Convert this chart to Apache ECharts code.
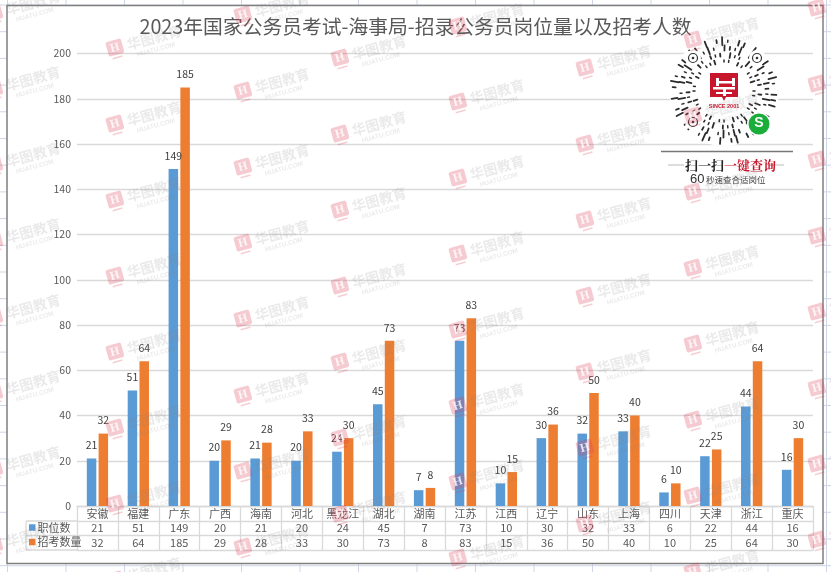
<!DOCTYPE html>
<html><head><meta charset="utf-8">
<style>html,body{margin:0;padding:0;background:#fff}#c{width:831px;height:572px}</style>
<script src="https://cdn.jsdelivr.net/npm/echarts@6/dist/echarts.min.js"></script>
</head><body><div id="c"></div>
<script>
const titleText = '2023年国家公务员考试-海事局-招录公务员岗位量以及招考人数';
const categories = ['安徽','福建','广东','广西','海南','河北','黑龙江','湖北','湖南','江苏','江西','辽宁','山东','上海','四川','天津','浙江','重庆'];
const positions = [21,51,149,20,21,20,24,45,7,73,10,30,32,33,6,22,44,16];
const recruits = [32,64,185,29,28,33,30,73,8,83,15,36,50,40,10,25,64,30];
const seriesNames = ['职位数','招考数量'];
const FONT = '"Noto Sans CJK SC","Noto Sans",sans-serif';
const GRAY = '#595959', LINE = '#d9d9d9';

const chart = echarts.init(document.getElementById('c'), null, {renderer:'canvas'});
const g = [];

/* spreadsheet behind the chart */
for (let x = 7.5; x < 831; x += 58.5) g.push({type:'line',z:-20,silent:true,shape:{x1:x,y1:0,x2:x,y2:572},style:{stroke:'#cdd5e6',lineWidth:1}});
for (let y = 5; y < 572; y += 26.7) g.push({type:'line',z:-20,silent:true,shape:{x1:0,y1:y,x2:831,y2:y},style:{stroke:'#cdd5e6',lineWidth:1}});
g.push({type:'rect',z:-10,silent:true,shape:{x:7,y:5.5,width:816,height:558},style:{fill:'#fff',stroke:'#7f7f7f',lineWidth:1.5}});

/* table left column */
g.push({type:'line',z:1,silent:true,shape:{x1:26,y1:521,x2:26,y2:550},style:{stroke:LINE,lineWidth:1.3}});
g.push({type:'line',z:1,silent:true,shape:{x1:26,y1:521,x2:77,y2:521},style:{stroke:LINE,lineWidth:1.3}});
g.push({type:'line',z:1,silent:true,shape:{x1:26,y1:535.5,x2:77,y2:535.5},style:{stroke:LINE,lineWidth:1.3}});
g.push({type:'line',z:1,silent:true,shape:{x1:26,y1:550,x2:77,y2:550},style:{stroke:LINE,lineWidth:1.3}});

/* mini-program code */
const cx = 724, cy = 91;
g.push({type:'circle',z:5,silent:true,shape:{cx,cy,r:55},style:{fill:'#fff'}});
const rings = [[30,40,[2,2,0,3,2,0,2,2,4,0]],[36,46,[3,0,5,2,2,0,6,2,0,3,2]],[43,50,[7,2,0,5,3,2,8,0,3,6,2]],[50,56,[6,0,3,8,2,0,5,4,0,7,3,0]]];
rings.forEach(([r,n,pat],ri)=>{
  for(let i=0;i<n;i++){
    const a=i/n*Math.PI*2+ri*0.1, len=pat[i%pat.length];
    if(!len) continue;
    const c=Math.cos(a),s=Math.sin(a);
    g.push({type:'line',z:6,silent:true,shape:{x1:cx+c*(r-len/2),y1:cy+s*(r-len/2),x2:cx+c*(r+len/2),y2:cy+s*(r+len/2)},
      style:{stroke:'#2b2b2b',lineWidth:len<3?1.5:1.8,lineCap:'round'}});
  }
});
[[693,58],[757,58],[693,122]].forEach(([x,y])=>{
  g.push({type:'circle',z:7,silent:true,shape:{cx:x,cy:y,r:8},style:{fill:'#fff'}});
  g.push({type:'circle',z:8,silent:true,shape:{cx:x,cy:y,r:4.5},style:{fill:'#fff',stroke:'#333',lineWidth:1.2}});
  g.push({type:'circle',z:8,silent:true,shape:{cx:x,cy:y,r:1.3},style:{fill:'#333'}});
});
g.push({type:'circle',z:7,silent:true,shape:{cx,cy,r:24},style:{fill:'#fff'}});
g.push({type:'polygon',z:8,silent:true,shape:{points:[[710,73],[738,73],[738,97],[726,97],[724,101],[722,97],[710,97]]},style:{fill:'#c8162c'}});
[[716,78,3,8],[732,78,3,8],[716,81,19,2.5],[713,87,22,2.5],[723,87,3,9],[716,92,16,2]].forEach(([x,y,w,h])=>{
  g.push({type:'rect',z:9,silent:true,shape:{x,y,width:w,height:h},style:{fill:'#fff'}});
});
g.push({type:'text',z:9,silent:true,x:724,y:106,style:{text:'SINCE 2001',fill:'#c8162c',font:'bold 5.5px "Liberation Sans",sans-serif',align:'center',verticalAlign:'middle'}});
g.push({type:'circle',z:8,silent:true,shape:{cx:759,cy:124,r:12},style:{fill:'#fff'}});
g.push({type:'circle',z:8,silent:true,shape:{cx:759,cy:124,r:10.5},style:{fill:'#1aad3a'}});
g.push({type:'text',z:9,silent:true,x:759,y:123.5,style:{text:'S',fill:'#fff',font:'bold 14px "Liberation Sans",sans-serif',align:'center',verticalAlign:'middle'}});
g.push({type:'rect',z:5,silent:true,shape:{x:660,y:146,width:136,height:42},style:{fill:'#fff'}});
g.push({type:'line',z:6,silent:true,shape:{x1:661,y1:151.5,x2:793,y2:151.5},style:{stroke:'#777',lineWidth:1.5}});
g.push({type:'line',z:6,silent:true,shape:{x1:668,y1:165,x2:684,y2:165},style:{stroke:'#bbb',lineWidth:1}});
g.push({type:'line',z:6,silent:true,shape:{x1:769,y1:165,x2:784,y2:165},style:{stroke:'#bbb',lineWidth:1}});
g.push({type:'text',z:6,silent:true,x:685,y:165,style:{text:'扫一扫',fill:'#222',font:'bold 13px "Noto Serif CJK SC","Noto Sans CJK SC",serif',align:'left',verticalAlign:'middle'}});
g.push({type:'text',z:6,silent:true,x:724,y:165,style:{text:'一键查询',fill:'#c8162c',font:'bold 13px "Noto Serif CJK SC","Noto Sans CJK SC",serif',align:'left',verticalAlign:'middle'}});
g.push({type:'text',z:6,silent:true,x:690,y:179,style:{text:'60',fill:'#333',font:'13px "Liberation Sans",sans-serif',align:'left',verticalAlign:'middle'}});
g.push({type:'text',z:6,silent:true,x:706,y:180,style:{text:'秒速查合适岗位',fill:'#444',font:'8.5px '+FONT,align:'left',verticalAlign:'middle'}});

/* repeated watermark */
const wmCols = [[-6,13],[115,48],[243,15],[340,58],[458,26],[585,68],[693,40],[817,8]];
wmCols.forEach(([x,y0])=>{
  for(let y=y0;y<590;y+=76){
    g.push({type:'group',z:100,silent:true,x:x,y:y,rotation:0.27,children:[
      {type:'rect',z:100,shape:{x:-8,y:-8,width:16,height:15,r:2},style:{fill:'rgba(222,60,85,0.27)'}},
      {type:'text',z:101,x:0,y:0,style:{text:'H',fill:'rgba(255,255,255,0.8)',font:'bold 12px "Liberation Serif",serif',align:'center',verticalAlign:'middle'}},
      {type:'rect',z:100,shape:{x:-5,y:9,width:10,height:1.5},style:{fill:'rgba(222,60,85,0.25)'}}
    ]});
    g.push({type:'text',z:100,silent:true,x:x+12,y:y-3,rotation:0.27,style:{text:'华图教育',fill:'rgba(130,130,130,0.17)',font:'bold 14px '+FONT,align:'left',verticalAlign:'middle'}});
    g.push({type:'text',z:100,silent:true,x:x+22,y:y+7,rotation:0.27,style:{text:'HUATU.COM',fill:'rgba(130,130,130,0.17)',font:'bold 6.5px "Liberation Sans",sans-serif',align:'left',verticalAlign:'middle'}});
  }
});

const tableAxis = (values, offset) => ({
  type:'category', position:'bottom', offset, data:values, boundaryGap:true,
  axisLine:{show:true,onZero:false,lineStyle:{color:LINE,width:1.3}},
  axisTick:{show:false},
  axisLabel:{show:offset<44,interval:0,margin:1.5,color:GRAY,fontSize:11,fontFamily:FONT},
  splitLine:{show:false}
});

const blank = categories.map(()=>'');
const mkSeries = (name,data,color)=>({
  name,type:'bar',data,barWidth:9.5,barGap:'24%',xAxisIndex:0,yAxisIndex:0,
  itemStyle:{color},
  label:{show:true,position:'top',distance:8,color:'#404040',fontSize:10.5,fontFamily:FONT}
});

chart.setOption({
  animation:false,
  backgroundColor:'#fff',
  title:{text:titleText,left:'center',top:12,textStyle:{color:GRAY,fontSize:19.8,fontWeight:'normal',fontFamily:FONT}},
  legend:{
    orient:'vertical',left:27,top:520,itemWidth:6.5,itemHeight:6.5,itemGap:1.5,padding:[1,0,0,2],
    data:seriesNames.map(name=>({name,icon:'rect'})),
    textStyle:{color:GRAY,fontSize:11,fontFamily:FONT,padding:[0,0,0,-3],lineHeight:13},
    selectedMode:false
  },
  grid:{left:77,right:18,top:53.5,bottom:66,containLabel:false},
  xAxis:[
    {type:'category',data:categories,position:'bottom',
     axisLine:{show:true,lineStyle:{color:LINE,width:1.3}},
     axisTick:{show:true,length:44,lineStyle:{color:LINE,width:1.3},alignWithLabel:false},
     axisLabel:{interval:0,color:GRAY,fontSize:11,fontFamily:FONT,margin:2}},
    tableAxis(positions.map(String),15),
    tableAxis(recruits.map(String),29.5),
    tableAxis(blank,44)
  ],
  yAxis:{type:'value',min:0,max:200,interval:20,
    axisLine:{show:false},axisTick:{show:false},
    axisLabel:{color:GRAY,fontSize:10.5,fontFamily:FONT,margin:6},
    splitLine:{lineStyle:{color:LINE,width:1.3}}},
  series:[mkSeries(seriesNames[0],positions,'#5B9BD5'),mkSeries(seriesNames[1],recruits,'#ED7D31')],
  graphic:{elements:g}
});
</script></body></html>
